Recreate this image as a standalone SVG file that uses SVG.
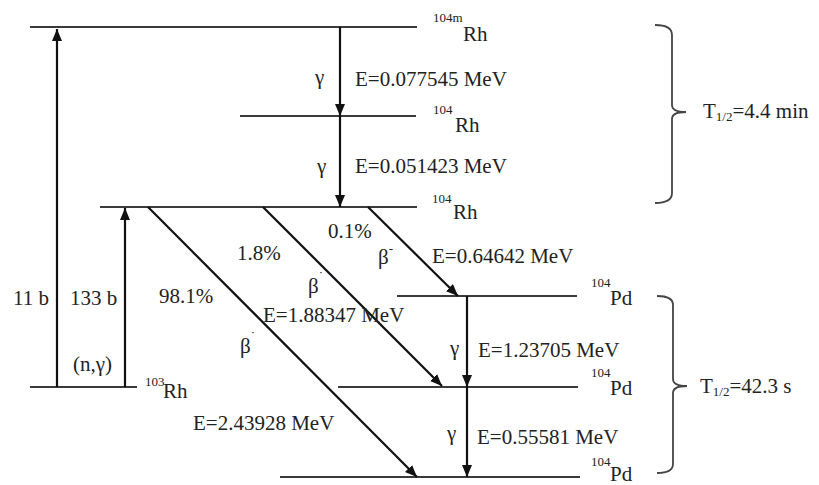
<svg xmlns="http://www.w3.org/2000/svg" width="819" height="485" viewBox="0 0 819 485" font-family="'Liberation Serif', 'DejaVu Serif', serif">
<style>
  .lvl { stroke: #3a3a3a; stroke-width: 2; fill: none; }
  .arr { stroke: #111; stroke-width: 2.2; fill: none; marker-end: url(#ah); }
  .brace { stroke: #444; stroke-width: 1.8; fill: none; }
  text { font-family: 'Liberation Serif', 'DejaVu Serif', serif; fill: #222; font-size: 21px; }
  .sup { font-size: 13px; }
</style>
<defs>
  <marker id="ah" viewBox="0 0 12 10" refX="12" refY="5" markerWidth="12" markerHeight="10" markerUnits="userSpaceOnUse" orient="auto">
    <path d="M0,0 L12,5 L0,10 z" fill="#111"/>
  </marker>
</defs>
<rect width="819" height="485" fill="#fff"/>

<g id="level-104mRh">
  <line class="lvl" x1="30" y1="27" x2="417" y2="27"/>
  <text class="sup" x="433" y="22">104m</text>
  <text x="463" y="41">Rh</text>
</g>
<g id="level-104Rh-a">
  <line class="lvl" x1="240" y1="116" x2="416" y2="116"/>
  <text class="sup" x="433" y="114">104</text>
  <text x="455" y="132">Rh</text>
</g>
<g id="level-104Rh-b">
  <line class="lvl" x1="100" y1="207" x2="417" y2="207"/>
  <text class="sup" x="432" y="203">104</text>
  <text x="453" y="219">Rh</text>
</g>
<g id="level-103Rh">
  <line class="lvl" x1="30" y1="387" x2="137" y2="387"/>
  <text class="sup" x="145" y="386">103</text>
  <text x="163" y="398">Rh</text>
</g>
<g id="level-104Pd-a">
  <line class="lvl" x1="397" y1="296" x2="577" y2="296"/>
  <text class="sup" x="591" y="287">104</text>
  <text x="610" y="305">Pd</text>
</g>
<g id="level-104Pd-b">
  <line class="lvl" x1="338" y1="387" x2="578" y2="387"/>
  <text class="sup" x="591" y="377">104</text>
  <text x="610" y="395">Pd</text>
</g>
<g id="level-104Pd-c">
  <line class="lvl" x1="280" y1="477" x2="580" y2="477"/>
  <text class="sup" x="591" y="466">104</text>
  <text x="610" y="481">Pd</text>
</g>

<g id="connectors">
  <line class="arr" x1="57" y1="387" x2="57" y2="29"/>
  <line class="arr" x1="125" y1="387" x2="125" y2="208"/>
  <line class="arr" x1="340" y1="27" x2="340" y2="116"/>
  <line class="arr" x1="340" y1="116" x2="340" y2="207"/>
  <line class="arr" x1="148" y1="207" x2="417" y2="477"/>
  <line class="arr" x1="263" y1="207" x2="442" y2="386"/>
  <line class="arr" x1="368" y1="207" x2="458" y2="296"/>
  <line class="arr" x1="467" y1="296" x2="467" y2="387"/>
  <line class="arr" x1="467" y1="387" x2="467" y2="477"/>
</g>

<g id="labels">
  <text x="315" y="84">γ</text>
  <text x="355" y="86">E=0.077545 MeV</text>
  <text x="317" y="173">γ</text>
  <text x="355" y="173">E=0.051423 MeV</text>
  <text x="13" y="305">11 b</text>
  <text x="70" y="305">133 b</text>
  <text x="73" y="371">(n,γ)</text>
  <text x="159" y="303">98.1%</text>
  <text x="237" y="260">1.8%</text>
  <text x="328" y="238">0.1%</text>
  <text x="378" y="264">β<tspan class="sup" dy="-11">-</tspan></text>
  <text x="432" y="263">E=0.64642 MeV</text>
  <text x="308" y="293">β<tspan class="sup" dy="-13">˙</tspan></text>
  <text x="263" y="322">E=1.88347 MeV</text>
  <text x="240" y="353">β<tspan class="sup" dy="-13">˙</tspan></text>
  <text x="193" y="430">E=2.43928 MeV</text>
  <text x="450" y="355">γ</text>
  <text x="478" y="357">E=1.23705 MeV</text>
  <text x="447" y="440">γ</text>
  <text x="477" y="444">E=0.55581 MeV</text>
</g>

<g id="halflife-rh">
  <path class="brace" d="M655,25 Q672,25 672,35 L672,105 Q672,112 686,112 Q672,112 672,119 L672,193 Q672,203 655,203"/>
  <text x="703" y="118">T<tspan font-size="13" dy="3">1/2</tspan><tspan dy="-3">=4.4 min</tspan></text>
</g>
<g id="halflife-pd">
  <path class="brace" d="M657,296 Q673,296 673,305 L673,379 Q673,386 687,386 Q673,386 673,393 L673,464 Q673,473 657,473"/>
  <text x="700" y="393">T<tspan font-size="13" dy="3">1/2</tspan><tspan dy="-3">=42.3 s</tspan></text>
</g>
</svg>
